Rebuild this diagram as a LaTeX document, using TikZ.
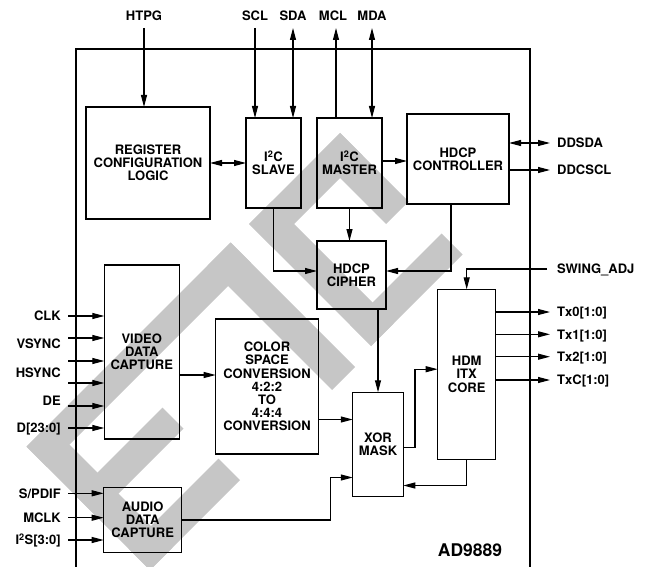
\documentclass[tikz,border=0pt]{standalone}
\usepackage{fontspec}
\setmainfont{TeX Gyre Heros}
\usetikzlibrary{arrows.meta,positioning}
\definecolor{wmgray}{HTML}{C6C6C6}
\newcommand{\lbfont}{\bfseries\fontsize{13}{13.2}\selectfont}
\newcommand{\iic}{I\textsuperscript{2}C}
\newcommand{\wmbar}[4]{\fill[wmgray] ({(#1+(#3))/2},{(#1-(#3))/2}) -- ({(#1+(#4))/2},{(#1-(#4))/2})
  -- ({(#2+(#4))/2},{(#2-(#4))/2}) -- ({(#2+(#3))/2},{(#2-(#3))/2}) -- cycle;}

\begin{document}
\begin{tikzpicture}[x=1pt,y=-1pt,
  blk/.style={draw,line width=1.1pt,inner sep=0pt,outer sep=0pt,align=center,font=\lbfont},
  lbl/.style={font=\lbfont,inner sep=0pt,text height=9.4pt,text depth=0pt},
  wire/.style={line width=1.1pt},
  arr/.style={wire,-{Triangle[length=12pt,width=6pt]}},
  darr/.style={wire,{Triangle[length=12pt,width=6pt]}-{Triangle[length=12pt,width=6pt]}}]
  \useasboundingbox (0,0) rectangle (651,567);
  \wmbar{473}{720}{-420}{-375}
  \wmbar{473}{514}{-420}{-12}
  \wmbar{570}{612}{-420}{-245}
  \wmbar{677}{720}{-420}{-240}
  \wmbar{473}{722}{-58}{-12}
  \wmbar{473}{717}{25}{70}
  \wmbar{473}{518}{25}{207}
  \wmbar{473}{610}{162}{207}
  \wmbar{675}{717}{25}{208}
  \draw[line width=1.8pt] (76,567) |- (530,49) -- (530,567);
  \node[blk,minimum width=124pt,minimum height=112pt] (reg) at (148,163) {REGISTER\\CONFIGURATION\\LOGIC};
  \node[blk,minimum width=55pt,minimum height=90pt] (slave) at (273.5,163) {\iic\\SLAVE};
  \node[blk,minimum width=65pt,minimum height=90pt] (master) at (349.5,163) {\iic\\MASTER};
  \node[blk,minimum width=102pt,minimum height=90pt] (ctrl) at (458,159) {HDCP\\CONTROLLER};
  \node[blk,minimum width=69pt,minimum height=68pt] (cipher) at (351.5,275) {HDCP\\CIPHER};
  \node[blk,minimum width=75pt,minimum height=174pt] (video) at (141.8,352) {VIDEO\\DATA\\CAPTURE};
  \node[blk,minimum width=102.6pt,minimum height=135pt] (csc) at (267,386.5)
    {COLOR\\SPACE\\CONVERSION\\4:2:2\\TO\\4:4:4\\CONVERSION};
  \node[blk,minimum width=50.5pt,minimum height=104.5pt] (xor) at (378,444.5) {XOR\\MASK};
  \node[blk,minimum width=58pt,minimum height=169.7pt] (core) at (466.7,374.2) {HDM\\ITX\\CORE};
  \node[blk,minimum width=78pt,minimum height=65.4pt] (audio) at (142.7,520) {AUDIO\\DATA\\CAPTURE};
  \node[lbl,font=\bfseries\fontsize{17.5}{18}\selectfont,text height=12.6pt] (chip) at (470,550) {AD9889};
  \foreach \x/\t in {144/HTPG,255/SCL,293/SDA,333/MCL,372/MDA} \node[lbl] (\t) at (\x,16) {\t};
  \coordinate (htpgend) at (144,28);
  \coordinate (sclend) at (255,28);
  \coordinate (sdaend) at (293,28);
  \coordinate (mclend) at (336,28);
  \coordinate (mdaend) at (372,28);
  \draw[arr] (htpgend) -- (htpgend |- reg.north);
  \draw[arr] (sclend) -- (sclend |- slave.north);
  \draw[darr] (sdaend) -- (sdaend |- slave.north);
  \draw[arr] (mclend |- master.north) -- (mclend);
  \draw[darr] (mdaend) -- (mdaend |- master.north);
  \draw[darr] (reg.east) -- (reg.east -| slave.west);
  \draw[arr] ([yshift=2pt]master.east) -- ([yshift=2pt]master.east -| ctrl.west);
  \coordinate (ddsdaend) at (550,143);
  \coordinate (ddcsclend) at (550,170);
  \draw[darr] (ddsdaend -| ctrl.east) -- (ddsdaend);
  \draw[arr] (ddcsclend -| ctrl.east) -- (ddcsclend);
  \node[lbl,anchor=west] (ddsda) at (557,143) {DDSDA};
  \node[lbl,anchor=west] (ddcscl) at (557,170) {DDCSCL};
  \draw[arr] (slave.south) |- ([yshift=4pt]cipher.west);
  \draw[arr] (master.south) -- (master.south |- cipher.north);
  \draw[arr] ([xshift=-7pt]ctrl.south) |- ([yshift=4pt]cipher.east);
  \draw[arr] (xor.north |- cipher.south) -- (xor.north);
  \foreach \y [count=\i] in {316,338,361,383,406,428} {
    \coordinate (vin\i) at (68,\y);
    \draw[arr] (vin\i) -- (vin\i -| video.west);
  }
  \foreach \y/\t [count=\i] in {316/CLK,344/VSYNC,372.3/HSYNC,400.7/DE,427.7/D[23:0]}
    \node[lbl,anchor=east] (vinl\i) at (61,\y) {\t};
  \foreach \y/\t [count=\i] in {493.3/{S/PDIF},517.7/MCLK,540/I\textsuperscript{2}S[3:0]} {
    \coordinate (ain\i) at (68,\y);
    \draw[arr] (ain\i) -- (ain\i -| audio.west);
    \node[lbl,anchor=east] (ainl\i) at (61,\y) {\t};
  }
  \draw[arr] ([yshift=-23pt]video.east) -- ([yshift=-23pt]video.east -| csc.west);
  \coordinate (xorin1) at ([yshift=25pt]xor.west);
  \coordinate (xorin2) at ([yshift=-33pt]xor.west);
  \draw[arr] (xorin1 -| csc.east) -- (xorin1);
  \draw[arr] (audio.east) -| ([xshift=-22.7pt]xorin2) -- (xorin2);
  \coordinate (corein) at ([yshift=5pt]core.west);
  \draw[arr] ([yshift=-3pt]xor.east) -| ([xshift=-22.7pt]corein) -- (corein);
  \draw[arr] (core.south) |- ([yshift=-41pt]xor.east);
  \coordinate (swing) at (547,269);
  \draw[arr] (swing) -| (core.north);
  \node[lbl,anchor=west] (swingl) at (557,269) {SWING\_ADJ};
  \foreach \y/\t [count=\i] in {312/Tx0[1:0],334.3/Tx1[1:0],356.7/Tx2[1:0],380/TxC[1:0]} {
    \coordinate (tx\i) at (550,\y);
    \draw[arr] (tx\i -| core.east) -- (tx\i);
    \node[lbl,anchor=west] (txl\i) at (557,\y) {\t};
  }
\end{tikzpicture}
\end{document}
